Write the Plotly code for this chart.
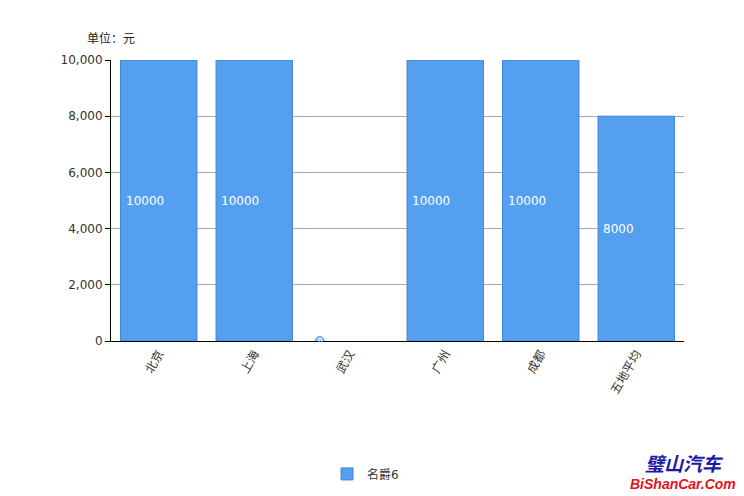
import plotly.graph_objects as go

categories = ["北京", "上海", "武汉", "广州", "成都", "五地平均"]
values = [10000, 10000, 0, 10000, 10000, 8000]
series_name = "名爵6"
y_ticks = [0, 2000, 4000, 6000, 8000, 10000]

FONT = "DejaVu Sans, Noto Sans CJK SC, sans-serif"
BLUE = "#559FF0"

fig = go.Figure()
fig.add_trace(go.Bar(
    x=categories, y=values, name=series_name,
    marker=dict(color=BLUE,
                line=dict(color="#3f86d6", width=[1 if v > 0 else 0 for v in values])),
    hoverinfo="x+y",
))

for i, (c, v) in enumerate(zip(categories, values)):
    if v > 0:
        fig.add_annotation(x=c, y=v / 2, text=str(v), showarrow=False,
                           xanchor="left", xshift=-35,
                           font=dict(family=FONT, size=12, color="white"))
    else:
        fig.add_shape(type="circle", xref="x", yref="y",
                      xsizemode="pixel", ysizemode="pixel",
                      xanchor=i, yanchor=v,
                      x0=-34.5, x1=-25.5, y0=-4.5, y1=4.5,
                      fillcolor="#9cc6f5", line=dict(color="#559FF0", width=1))
        fig.add_annotation(x=c, y=v, text=str(v), showarrow=False,
                           xanchor="center", yanchor="middle", xshift=-30,
                           font=dict(family=FONT, size=7, color="white"))

fig.add_annotation(xref="paper", yref="paper", x=-0.045, y=1.075,
                   xanchor="left", yanchor="middle", text="单位：元", showarrow=False,
                   font=dict(family=FONT, size=12, color="#222"))

# watermark
fig.add_annotation(xref="paper", yref="paper", x=1.0, y=-0.434, xanchor="center",
                   yanchor="middle",
                   text="<b><i>璧山汽车</i></b>", showarrow=False,
                   font=dict(family="Noto Sans CJK SC", size=19, color="#1a1aa8"))
fig.add_annotation(xref="paper", yref="paper", x=0.998, y=-0.51, xanchor="center",
                   yanchor="middle",
                   text="<b><i>BiShanCar.Com</i></b>", showarrow=False,
                   font=dict(family="Liberation Sans Narrow, Liberation Sans", size=14, color="#e8101a"))

fig.update_layout(
    width=736, height=488,
    margin=dict(l=103, r=60, t=52, b=155, autoexpand=False),
    paper_bgcolor="white", plot_bgcolor="white",
    bargap=0.2,
    font=dict(family=FONT, size=12, color="#333"),
    showlegend=True,
    legend=dict(orientation="h", x=0.377, xanchor="left", y=-0.473, yanchor="middle",
                font=dict(family=FONT, size=12, color="#333")),
    xaxis=dict(type="category", tickangle=-60, showline=True, linecolor="black",
               linewidth=1, ticks="", showgrid=False, automargin=False,
               tickfont=dict(family=FONT, size=12, color="#333")),
    yaxis=dict(range=[0, 10000], tickvals=y_ticks, tickformat=",", showline=True,
               linecolor="black", linewidth=1, ticks="outside", ticklen=5,
               tickcolor="black", gridcolor="#aaaaaa", zeroline=False, automargin=False,
               tickfont=dict(family=FONT, size=12, color="#333")),
)

fig.write_html("out.html")
